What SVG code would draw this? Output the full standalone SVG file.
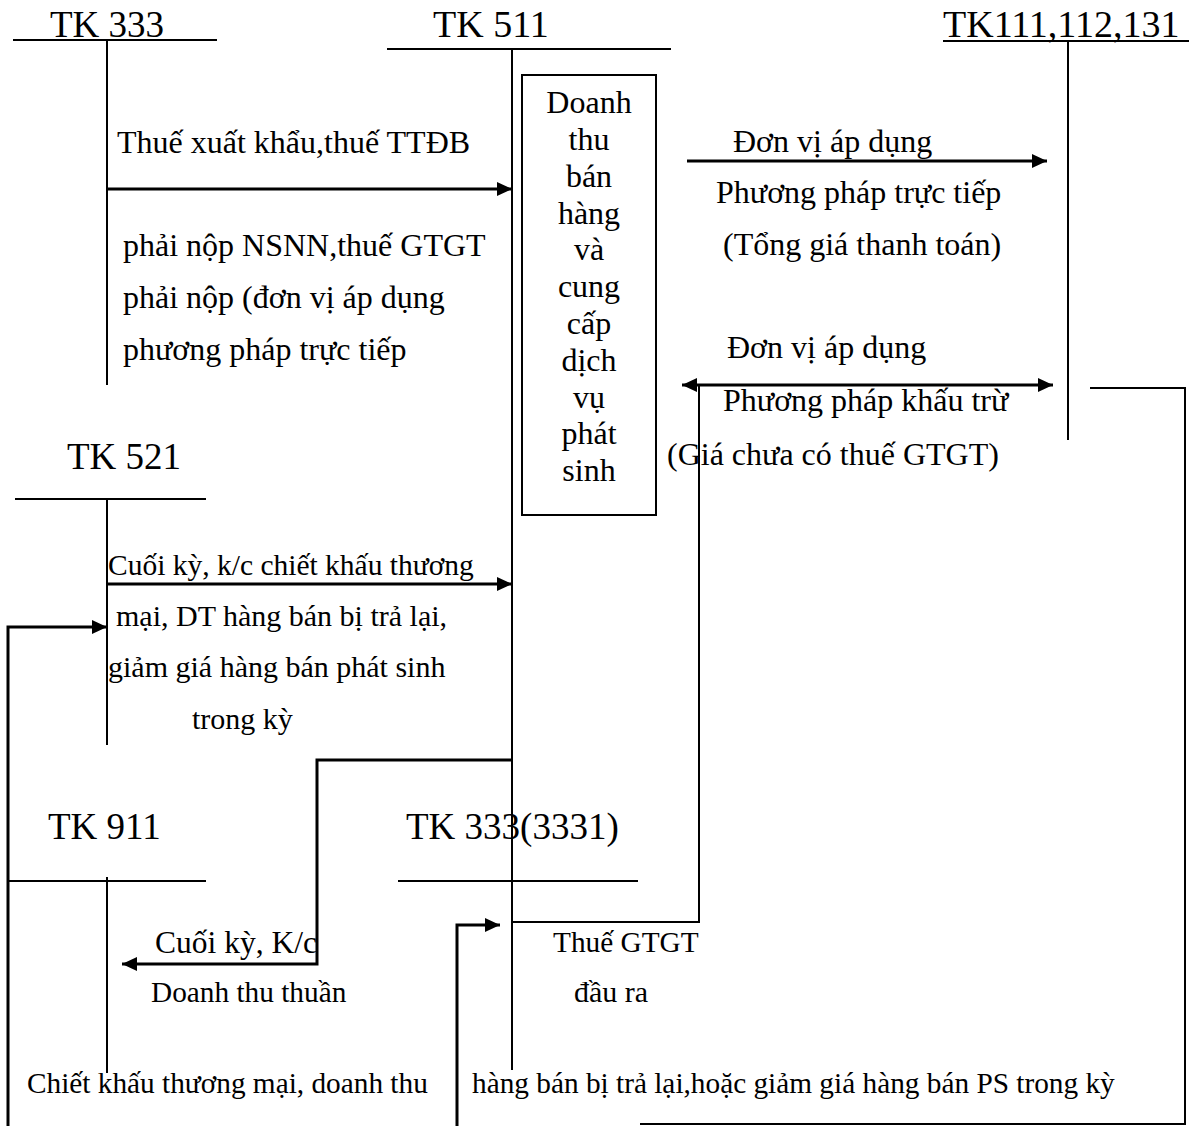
<svg xmlns="http://www.w3.org/2000/svg" width="1189" height="1126" viewBox="0 0 1189 1126">
  <style>
    text { font-family: "Liberation Serif", "Times New Roman", serif; fill: #000; }
    .hd { font-size: 37px; }
    .tx { font-size: 32px; }
    .sm { font-size: 30px; }
    .xs { font-size: 29.3px; }
    .acct { stroke: #000; stroke-width: 2; fill: none; }
    .flow { stroke: #000; stroke-width: 3; fill: none; }
    .box { stroke: #000; stroke-width: 2; fill: #fff; }
  </style>
  <defs>
    <marker id="arrow" markerUnits="userSpaceOnUse" markerWidth="16" markerHeight="14" refX="15" refY="7" orient="auto-start-reverse">
      <path d="M0,0 L15,7 L0,14 z" fill="#000"/>
    </marker>
  </defs>
  <rect width="1189" height="1126" fill="#fff"/>

  <!-- T-account: TK 333 -->
  <g id="tk333">
    <text class="hd" x="50" y="37">TK 333</text>
    <line class="acct" x1="13" y1="40" x2="217" y2="40"/>
    <line class="acct" x1="107" y1="40" x2="107" y2="385"/>
  </g>

  <!-- T-account: TK 511 -->
  <g id="tk511">
    <text class="hd" x="433" y="37" style="font-size:38px">TK 511</text>
    <line class="acct" x1="387" y1="49" x2="671" y2="49"/>
    <line class="acct" x1="512" y1="49" x2="512" y2="1070"/>
  </g>

  <!-- Revenue box beside TK 511 -->
  <g id="revenue-box">
    <rect class="box" x="522" y="75" width="134" height="440"/>
    <g class="tx" text-anchor="middle">
      <text x="589" y="113">Doanh</text>
      <text x="589" y="150">thu</text>
      <text x="589" y="187">bán</text>
      <text x="589" y="224">hàng</text>
      <text x="589" y="260">và</text>
      <text x="589" y="297">cung</text>
      <text x="589" y="334">cấp</text>
      <text x="589" y="371">dịch</text>
      <text x="589" y="408">vụ</text>
      <text x="589" y="444">phát</text>
      <text x="589" y="481">sinh</text>
    </g>
  </g>

  <!-- T-account: TK 111,112,131 -->
  <g id="tk111">
    <text class="hd" x="943" y="37" style="font-size:38px">TK111,112,131</text>
    <line class="acct" x1="943" y1="41" x2="1189" y2="41"/>
    <line class="acct" x1="1068" y1="41" x2="1068" y2="440"/>
  </g>

  <!-- T-account: TK 521 -->
  <g id="tk521">
    <text class="hd" x="67" y="469">TK 521</text>
    <line class="acct" x1="15" y1="499" x2="206" y2="499"/>
    <line class="acct" x1="107" y1="499" x2="107" y2="745"/>
  </g>

  <!-- T-account: TK 911 -->
  <g id="tk911">
    <text class="hd" x="48" y="839">TK 911</text>
    <line class="acct" x1="8" y1="881" x2="206" y2="881"/>
    <line class="acct" x1="107" y1="877" x2="107" y2="1073"/>
  </g>

  <!-- T-account: TK 333(3331) -->
  <g id="tk3331">
    <text class="hd" x="406" y="839">TK 333(3331)</text>
    <line class="acct" x1="398" y1="881" x2="638" y2="881"/>
  </g>

  <!-- Entries between accounts -->
  <g id="connectors">
    <!-- TK 333 -> TK 511 -->
    <line class="flow" x1="107" y1="189" x2="512" y2="189" marker-end="url(#arrow)"/>
    <!-- TK 511 -> TK 111,112,131 (direct method) -->
    <line class="flow" x1="687" y1="161" x2="1047" y2="161" marker-end="url(#arrow)"/>
    <!-- deduction method, both directions -->
    <line class="flow" x1="682" y1="385" x2="1053" y2="385" marker-start="url(#arrow)" marker-end="url(#arrow)"/>
    <!-- VAT output link to TK 3331 -->
    <polyline class="acct" points="699,386 699,922 512,922"/>
    <!-- right return path along the bottom -->
    <polyline class="acct" points="1090,388 1185,388 1185,1124 640,1124"/>
    <!-- TK 521 -> TK 511 -->
    <line class="flow" x1="107" y1="584" x2="512" y2="584" marker-end="url(#arrow)"/>
    <!-- left return path into TK 521 -->
    <polyline class="flow" points="8,1126 8,627 107,627" marker-end="url(#arrow)"/>
    <!-- TK 511 -> TK 911 net revenue -->
    <polyline class="flow" points="512,760 317,760 317,964 122,964" marker-end="url(#arrow)"/>
    <!-- return into TK 3331 -->
    <polyline class="flow" points="457,1126 457,925 500,925" marker-end="url(#arrow)"/>
  </g>

  <!-- Entry labels -->
  <g id="labels-top" class="tx">
    <text x="117" y="153">Thuế xuất khẩu,thuế TTĐB</text>
    <text x="123" y="256">phải nộp NSNN,thuế GTGT</text>
    <text x="123" y="308">phải nộp (đơn vị áp dụng</text>
    <text x="123" y="360">phương pháp trực tiếp</text>

    <text x="733" y="152">Đơn vị áp dụng</text>
    <text x="716" y="203">Phương pháp trực tiếp</text>
    <text x="723" y="255">(Tổng giá thanh toán)</text>

    <text x="727" y="358">Đơn vị áp dụng</text>
    <text x="723" y="411">Phương pháp khấu trừ</text>
    <text x="667" y="465">(Giá chưa có thuế GTGT)</text>
  </g>
  <g id="labels-bottom" class="sm">
    <text x="108" y="575" style="font-size:29.5px">Cuối kỳ, k/c chiết khấu thương</text>
    <text x="116" y="626">mại, DT hàng bán bị trả lại,</text>
    <text x="108" y="677">giảm giá hàng bán phát sinh</text>
    <text x="192" y="729">trong kỳ</text>

    <text x="155" y="953" style="font-size:31.5px">Cuối kỳ, K/c</text>
    <text class="xs" x="151" y="1002">Doanh thu thuần</text>

    <text class="xs" x="553" y="952">Thuế GTGT</text>
    <text x="574" y="1002">đầu ra</text>

    <text class="xs" x="27" y="1093">Chiết khấu thương mại, doanh thu</text>
    <text class="xs" x="472" y="1093">hàng bán bị trả lại,hoặc giảm giá hàng bán PS trong kỳ</text>
  </g>
</svg>
